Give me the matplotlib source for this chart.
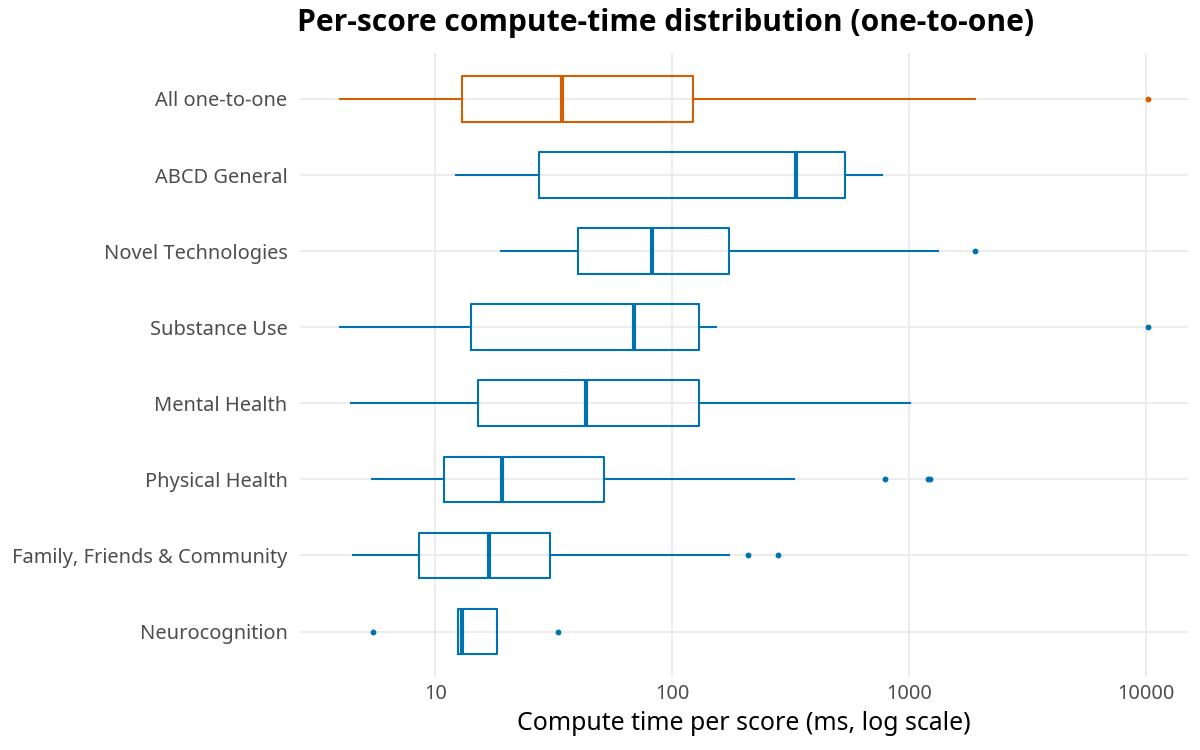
import numpy as np
import matplotlib

matplotlib.use("Agg")
import matplotlib.pyplot as plt
from matplotlib import font_manager

plt.rcParams["font.family"] = ["Noto Sans", "DejaVu Sans"]

# top to bottom as drawn
categories = [
    "All one-to-one",
    "ABCD General",
    "Novel Technologies",
    "Substance Use",
    "Mental Health",
    "Physical Health",
    "Family, Friends & Community",
    "Neurocognition",
]
whislo = [3.97, 12.2, 19.0, 3.97, 4.42, 5.41, 4.48, 12.5]
q1 = [13.0, 27.4, 40.0, 14.2, 15.2, 10.9, 8.56, 12.5]
median = [34.3, 333, 82.2, 68.8, 43.1, 19.1, 16.8, 12.9]
q3 = [122, 537, 174, 130, 130, 51.8, 30.6, 18.2]
whishi = [1900, 771, 1324, 154, 1007, 327, 174, 18.2]
outliers = [
    [10200],
    [],
    [1900],
    [10200],
    [],
    [791, 1200, 1230],
    [210, 279],
    [5.44, 32.9],
]
group_colors = ["#D55E00"] + ["#0072B2"] * 7

fig = plt.figure(figsize=(12, 7.5), dpi=100)
ax = fig.add_axes([0.25, 0.097, 0.74, 0.832])

n = len(categories)
positions = np.arange(n, 0, -1)
for i in range(n):
    stats = [{
        "whislo": whislo[i], "q1": q1[i], "med": median[i],
        "q3": q3[i], "whishi": whishi[i], "fliers": outliers[i],
    }]
    c = group_colors[i]
    ax.bxp(
        stats,
        positions=[positions[i]],
        widths=0.6,
        vert=False,
        showcaps=False,
        boxprops=dict(color=c, linewidth=1.5),
        whiskerprops=dict(color=c, linewidth=1.5),
        medianprops=dict(color=c, linewidth=3.0, solid_capstyle="butt"),
        flierprops=dict(marker="o", markerfacecolor=c, markeredgecolor=c,
                        markersize=3.2, linestyle="none"),
        zorder=3,
    )

ax.set_xscale("log")
lo = np.log10(min(min(whislo), min(min(o) for o in outliers if o)))
hi = np.log10(max(max(whishi), max(max(o) for o in outliers if o)))
pad = 0.05 * (hi - lo)
ax.set_xlim(10 ** (lo - pad), 10 ** (hi + pad))
ax.set_ylim(0.4, n + 0.6)

ax.set_xticks([10, 100, 1000, 10000])
ax.set_xticklabels(["10", "100", "1000", "10000"])
ax.xaxis.set_minor_locator(matplotlib.ticker.NullLocator())
ax.set_yticks(positions)
ax.set_yticklabels(categories)

ax.grid(True, which="major", color="#EBEBEB", linewidth=1.3, zorder=0)
ax.set_axisbelow(True)
for s in ax.spines.values():
    s.set_visible(False)
ax.tick_params(axis="both", length=0, labelsize=14.4, labelcolor="#4D4D4D")
ax.tick_params(axis="y", pad=9)
ax.tick_params(axis="x", pad=5)

ax.set_xlabel("Compute time per score (ms, log scale)", fontsize=17.9, labelpad=5)
title_font = font_manager.FontProperties(family=["Open Sans", "Noto Sans"],
                                         weight="bold", size=21.6)
fig.suptitle("Per-score compute-time distribution (one-to-one)",
             fontproperties=title_font, x=0.555, y=0.99)

fig.savefig("out.png", dpi=100)
